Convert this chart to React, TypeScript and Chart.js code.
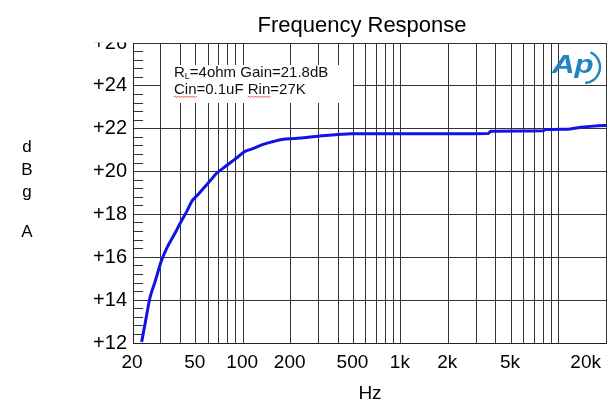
import React, { useEffect, useRef } from 'react';
import { Chart, registerables } from 'chart.js';

Chart.register(...registerables);

// ---- data ----
const freqHz = [22.7, 24, 25.6, 27.6, 30.4, 32.7, 36.9, 40.7, 43.8, 47.1, 51, 57.1, 62, 67.8, 75, 84.3, 92, 102, 115, 137, 155, 175, 220, 277, 350, 420, 484, 1000, 2000, 3600, 3700, 8000, 8200, 11500, 14000, 18000, 20000];
const gainDb = [12.05, 13.0, 14.1, 14.86, 15.87, 16.42, 17.12, 17.72, 18.13, 18.6, 18.88, 19.29, 19.59, 19.92, 20.17, 20.46, 20.67, 20.93, 21.07, 21.29, 21.4, 21.5, 21.55, 21.63, 21.7, 21.74, 21.76, 21.76, 21.77, 21.78, 21.88, 21.9, 21.96, 21.98, 22.07, 22.14, 22.15];

const xGridHz = [20, 30, 40, 50, 60, 70, 80, 90, 100, 200, 300, 400, 500, 600, 700, 800, 900, 1000, 2000, 3000, 4000, 5000, 6000, 7000, 8000, 9000, 10000, 20000];
const xTickValues = [20, 50, 100, 200, 500, 1000, 2000, 5000, 20000];
const xTickLabels = ['20', '50', '100', '200', '500', '1k', '2k', '5k', '20k'];
const yMajorTicks = [12, 14, 16, 18, 20, 22, 24, 26];
const yMinorStep = 0.4;

const titleText = 'Frequency Response';
const xTitleText = 'Hz';
const yTitleLetters = ['d', 'B', 'g', 'A'];
const noteLine1 = ['R', 'L', '=4ohm Gain=21.8dB'];
const noteLine2 = ['Cin', '=0.1uF ', 'Rin', '=27K'];
const noteBoxHz = [30, 500];
const logoText = 'Ap';

const FONT = '"Liberation Sans", Arial, Helvetica, sans-serif';

function squiggle(ctx: CanvasRenderingContext2D, x0: number, x1: number, y: number) {
  ctx.beginPath();
  let up = true;
  ctx.moveTo(x0, y);
  for (let x = x0 + 1.5; x <= x1; x += 1.5) {
    ctx.lineTo(x, up ? y - 1 : y + 0.6);
    up = !up;
  }
  ctx.stroke();
}

const decor = {
  id: 'decor',
  beforeDraw(chart: any) {
    const { ctx, width, height } = chart;
    ctx.save();
    ctx.fillStyle = '#ffffff';
    ctx.fillRect(0, 0, width, height);
    ctx.restore();
  },
  beforeDatasetsDraw(chart: any) {
    const { ctx, scales } = chart;
    const xs = scales.x;
    ctx.save();
    const bx0 = Math.round(xs.getPixelForValue(noteBoxHz[0]) - 0.5) + 1;
    const bx1 = Math.round(xs.getPixelForValue(noteBoxHz[1]) - 0.5);
    ctx.fillStyle = '#ffffff';
    ctx.fillRect(bx0, 65, bx1 - bx0, 38);

    ctx.fillStyle = '#111';
    ctx.textAlign = 'left';
    ctx.textBaseline = 'alphabetic';
    let x = 174;
    ctx.font = `15px ${FONT}`;
    ctx.fillText(noteLine1[0], x, 77);
    x += ctx.measureText(noteLine1[0]).width;
    ctx.font = `9px ${FONT}`;
    ctx.fillText(noteLine1[1], x, 79);
    x += ctx.measureText(noteLine1[1]).width;
    ctx.font = `15px ${FONT}`;
    ctx.fillText(noteLine1[2], x, 77);

    x = 174;
    const y2 = 93.5;
    ctx.strokeStyle = '#e03030';
    ctx.lineWidth = 0.8;
    for (let i = 0; i < noteLine2.length; i++) {
      const s = noteLine2[i];
      ctx.fillText(s, x, y2);
      const w = ctx.measureText(s).width;
      if (i === 0 || i === 2) squiggle(ctx, x, x + w, y2 + 3.5);
      x += w;
    }
    ctx.restore();
  },
  afterDraw(chart: any) {
    const { ctx, scales, chartArea } = chart;
    const xs = scales.x;
    ctx.save();
    // clip top of the "+26" label above the plot frame
    ctx.fillStyle = '#ffffff';
    ctx.fillRect(90, 0, chartArea.left - 91, chartArea.top - 0.5);

    ctx.fillStyle = '#000';
    ctx.textBaseline = 'alphabetic';
    // title
    ctx.font = `22px ${FONT}`;
    ctx.textAlign = 'center';
    ctx.fillText(titleText, 362, 32);

    // x tick labels
    ctx.font = `19px ${FONT}`;
    xTickValues.forEach((v, i) => {
      const px = xs.getPixelForValue(v);
      if (i === xTickValues.length - 1) {
        ctx.textAlign = 'right';
        ctx.fillText(xTickLabels[i], 601, 368);
      } else {
        ctx.textAlign = 'center';
        ctx.fillText(xTickLabels[i], px - 1, 368);
      }
    });

    // x title
    ctx.textAlign = 'center';
    ctx.font = `19px ${FONT}`;
    ctx.fillText(xTitleText, 370, 399);

    // y title letters
    ctx.font = `17px ${FONT}`;
    const ys = [152, 175, 197, 237];
    yTitleLetters.forEach((c, i) => ctx.fillText(c, 27, ys[i]));

    // Ap logo
    ctx.fillStyle = '#1f84c2';
    ctx.strokeStyle = '#1f84c2';
    ctx.font = `italic bold 25px ${FONT}`;
    ctx.textAlign = 'left';
    ctx.save();
    ctx.translate(552, 73);
    ctx.scale(1.25, 1);
    ctx.fillText(logoText, 0, 0);
    ctx.restore();
    ctx.lineWidth = 2.4;
    ctx.beginPath();
    ctx.ellipse(584, 67, 16, 16, 0, -1.15, 1.5);
    ctx.stroke();
    ctx.restore();
  },
};

export default function App() {
  const ref = useRef<HTMLCanvasElement | null>(null);
  useEffect(() => {
    if (!ref.current) return;
    const points = freqHz.map((f, i) => ({ x: f, y: gainDb[i] }));
    const gridColor = '#333333';
    const chart = new Chart(ref.current, {
      type: 'line',
      data: {
        datasets: [
          {
            data: points,
            borderColor: '#1212e6',
            borderWidth: 3,
            pointRadius: 0,
            cubicInterpolationMode: 'monotone',
            fill: false,
          },
        ],
      },
      options: {
        animation: false,
        responsive: false,
        maintainAspectRatio: false,
        layout: { padding: { left: 0, right: 5, top: 43, bottom: 0 } },
        plugins: {
          legend: { display: false },
          tooltip: { enabled: false },
          title: { display: false },
        },
        scales: {
          x: {
            type: 'logarithmic',
            min: 20,
            max: 20000,
            afterBuildTicks: (s: any) => {
              s.ticks = xGridHz.map((v) => ({ value: v }));
            },
            afterFit: (s: any) => {
              s.height = 62;
              s.paddingLeft = 0;
              s.paddingRight = 0;
            },
            ticks: { display: false },
            grid: { color: gridColor, lineWidth: 1, drawTicks: false },
            border: { color: '#222', width: 1 },
          },
          y: {
            type: 'linear',
            min: yMajorTicks[0],
            max: yMajorTicks[yMajorTicks.length - 1],
            afterBuildTicks: (s: any) => {
              const lo = yMajorTicks[0];
              const hi = yMajorTicks[yMajorTicks.length - 1];
              const n = Math.round((hi - lo) / yMinorStep);
              const t: any[] = [];
              for (let i = 0; i <= n; i++) t.push({ value: Math.round((lo + i * yMinorStep) * 10) / 10 });
              s.ticks = t;
            },
            afterFit: (s: any) => {
              s.width = 133;
            },
            ticks: {
              autoSkip: false,
              padding: 16,
              color: '#000',
              font: { family: FONT, size: 20 },
              callback: (v: any) => (yMajorTicks.includes(Number(v)) ? '+' + v : ''),
            },
            grid: {
              color: (c: any) => (c.tick && yMajorTicks.includes(c.tick.value) ? gridColor : 'rgba(0,0,0,0)'),
              tickColor: '#333',
              tickLength: -10,
              drawTicks: true,
              lineWidth: 1,
            },
            border: { color: '#222', width: 1 },
          },
        },
      },
      plugins: [decor],
    } as any);
    return () => chart.destroy();
  }, []);
  return (
    <div style={{ position: 'fixed', left: 0, top: 0, width: 611, height: 405, background: '#fff' }}>
      <canvas ref={ref} width={611} height={405} style={{ display: 'block', width: 611, height: 405 }} />
    </div>
  );
}
